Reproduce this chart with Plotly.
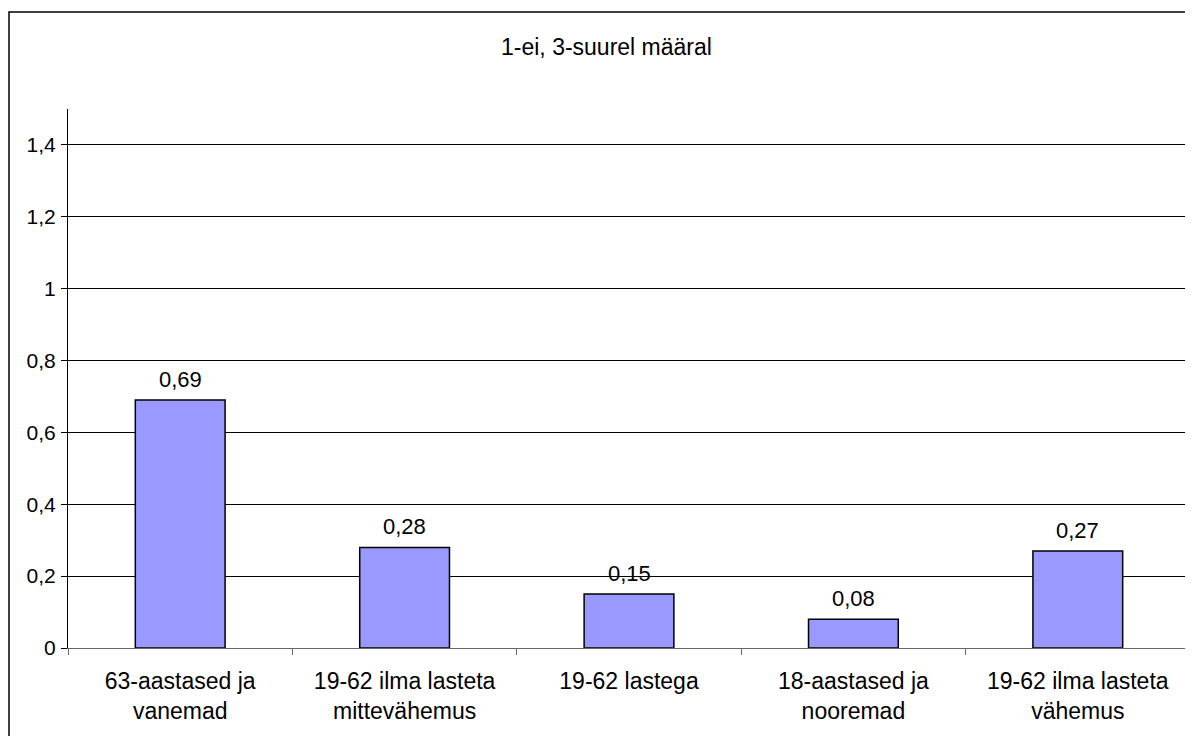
import plotly.graph_objects as go

categories = ["63-aastased ja<br>vanemad", "19-62 ilma lasteta<br>mittevähemus", "19-62 lastega",
              "18-aastased ja<br>nooremad", "19-62 ilma lasteta<br>vähemus"]
values = [0.69, 0.28, 0.15, 0.08, 0.27]
y_ticks = [0, 0.2, 0.4, 0.6, 0.8, 1.0, 1.2, 1.4]
y_ticktext = ["0", "0,2", "0,4", "0,6", "0,8", "1", "1,2", "1,4"]
title_text = "1-ei, 3-suurel määral"

# The page body has an 8px margin, so figure pixel = window pixel - 8
W, H = 1185, 728
L, T = 60, 101
R = W - 1182
B = H - 640
pw = W - L - R
ph = H - T - B

def px_to_paper_x(px):
    return (px - L) / pw

def px_to_paper_y(py):
    return (H - B - py) / ph

FONT = "Liberation Sans, Arial, sans-serif"

fig = go.Figure()
fig.add_trace(go.Bar(
    x=categories, y=values,
    marker=dict(color="#9999FF", line=dict(color="black", width=1.5)),
    width=0.4,
    hoverinfo="skip",
))

for c, v in zip(categories, values):
    fig.add_annotation(x=c, y=v, text=f"{v:.2f}".replace(".", ","), showarrow=False,
                       yanchor="bottom", yshift=6, font=dict(size=22, color="black", family=FONT))

fig.add_annotation(x=px_to_paper_x(598), y=px_to_paper_y(39), xref="paper", yref="paper",
                   text=title_text, showarrow=False, xanchor="center", yanchor="middle",
                   font=dict(size=23, color="black", family=FONT))

fig.add_shape(type="rect", xref="paper", yref="paper",
              x0=px_to_paper_x(1), x1=px_to_paper_x(1220),
              y0=px_to_paper_y(4), y1=px_to_paper_y(760),
              line=dict(color="black", width=1.5), fillcolor="rgba(0,0,0,0)", layer="below")

fig.update_layout(
    width=W, height=H,
    margin=dict(l=L, r=R, t=T, b=B, pad=0),
    paper_bgcolor="white", plot_bgcolor="white",
    showlegend=False,
    font=dict(family=FONT, color="black"),
    xaxis=dict(
        type="category", showline=True, linecolor="#666666", linewidth=1,
        ticks="outside", tickson="boundaries", ticklen=6, tickcolor="#666666",
        showgrid=False, tickfont=dict(size=23, color="black", family=FONT),
        ticklabelstandoff=12,
    ),
    yaxis=dict(
        range=[0, 1.5], tickvals=y_ticks, ticktext=y_ticktext,
        showline=True, linecolor="black", linewidth=1,
        ticks="outside", ticklen=6, tickcolor="black",
        showgrid=True, gridcolor="black", gridwidth=1, zeroline=False,
        tickfont=dict(size=21, color="black", family=FONT),
        ticklabelstandoff=1,
    ),
)

fig.write_html("out.html")
